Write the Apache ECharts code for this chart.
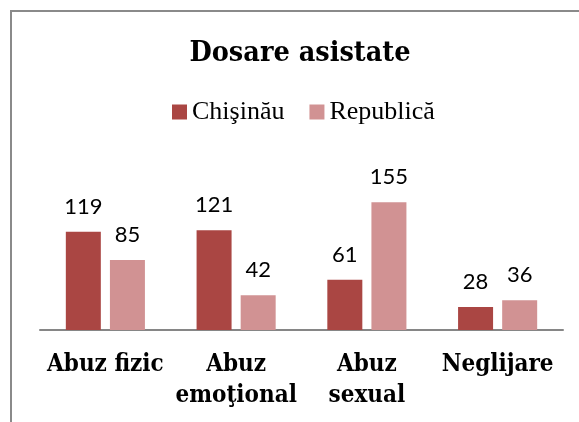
<!DOCTYPE html>
<html>
<head>
<meta charset="utf-8">
<script src="https://cdn.jsdelivr.net/npm/echarts@6/dist/echarts.min.js"></script>
<style>
html,body{margin:0;padding:0;background:#fff;}
#chart{width:579px;height:422px;}
</style>
</head>
<body>
<div id="chart"></div>
<script>
const titleText = 'Dosare asistate';
const categories = ['Abuz fizic', 'Abuz\nemoţional', 'Abuz\nsexual', 'Neglijare'];
const seriesNames = ['Chişinău', 'Republică'];
const chisinau = [119, 121, 61, 28];
const republica = [85, 42, 155, 36];

const serifBold = "'DejaVu Serif Condensed', 'DejaVu Serif', serif";
const chart = echarts.init(document.getElementById('chart'), null, {renderer: 'canvas'});
chart.setOption({
  animation: false,
  backgroundColor: '#ffffff',
  graphic: [{
    type: 'rect',
    shape: {x: 11, y: 11, width: 800, height: 700},
    style: {fill: 'none', stroke: '#8a8a8a', lineWidth: 2},
    silent: true
  }],
  title: {
    text: titleText,
    left: 300,
    textAlign: 'center',
    top: 39,
    padding: 0,
    textStyle: {fontFamily: serifBold, fontWeight: 'bold', fontSize: 28.5, color: '#000'}
  },
  legend: {
    left: 172,
    top: 99,
    padding: 0,
    itemWidth: 15,
    itemHeight: 15,
    itemGap: 25,
    icon: 'rect',
    data: seriesNames,
    textStyle: {fontFamily: "'Liberation Serif', 'Times New Roman', serif", fontSize: 26, color: '#000', padding: [0, 0, 0, 0]}
  },
  grid: {left: 40, right: 16, top: 198, bottom: 92, containLabel: false},
  xAxis: {
    type: 'category',
    data: categories,
    axisLine: {show: true, lineStyle: {color: '#868686', width: 2}},
    axisTick: {show: false},
    axisLabel: {
      interval: 0,
      margin: 19,
      fontFamily: serifBold,
      fontWeight: 'bold',
      fontSize: 24,
      lineHeight: 31,
      color: '#000'
    }
  },
  yAxis: {
    type: 'value',
    min: 0,
    max: 160,
    show: false,
    splitLine: {show: false}
  },
  series: [
    {
      name: seriesNames[0],
      type: 'bar',
      data: chisinau,
      barWidth: 35,
      barGap: '26%',
      itemStyle: {color: '#AA4643'},
      label: {show: true, position: 'top', distance: 14, fontFamily: "Lato, 'Open Sans', sans-serif", fontSize: 22, color: '#000'}
    },
    {
      name: seriesNames[1],
      type: 'bar',
      data: republica,
      barWidth: 35,
      barGap: '26%',
      itemStyle: {color: '#D19293'},
      label: {show: true, position: 'top', distance: 14, fontFamily: "Lato, 'Open Sans', sans-serif", fontSize: 22, color: '#000'}
    }
  ]
});
</script>
</body>
</html>
